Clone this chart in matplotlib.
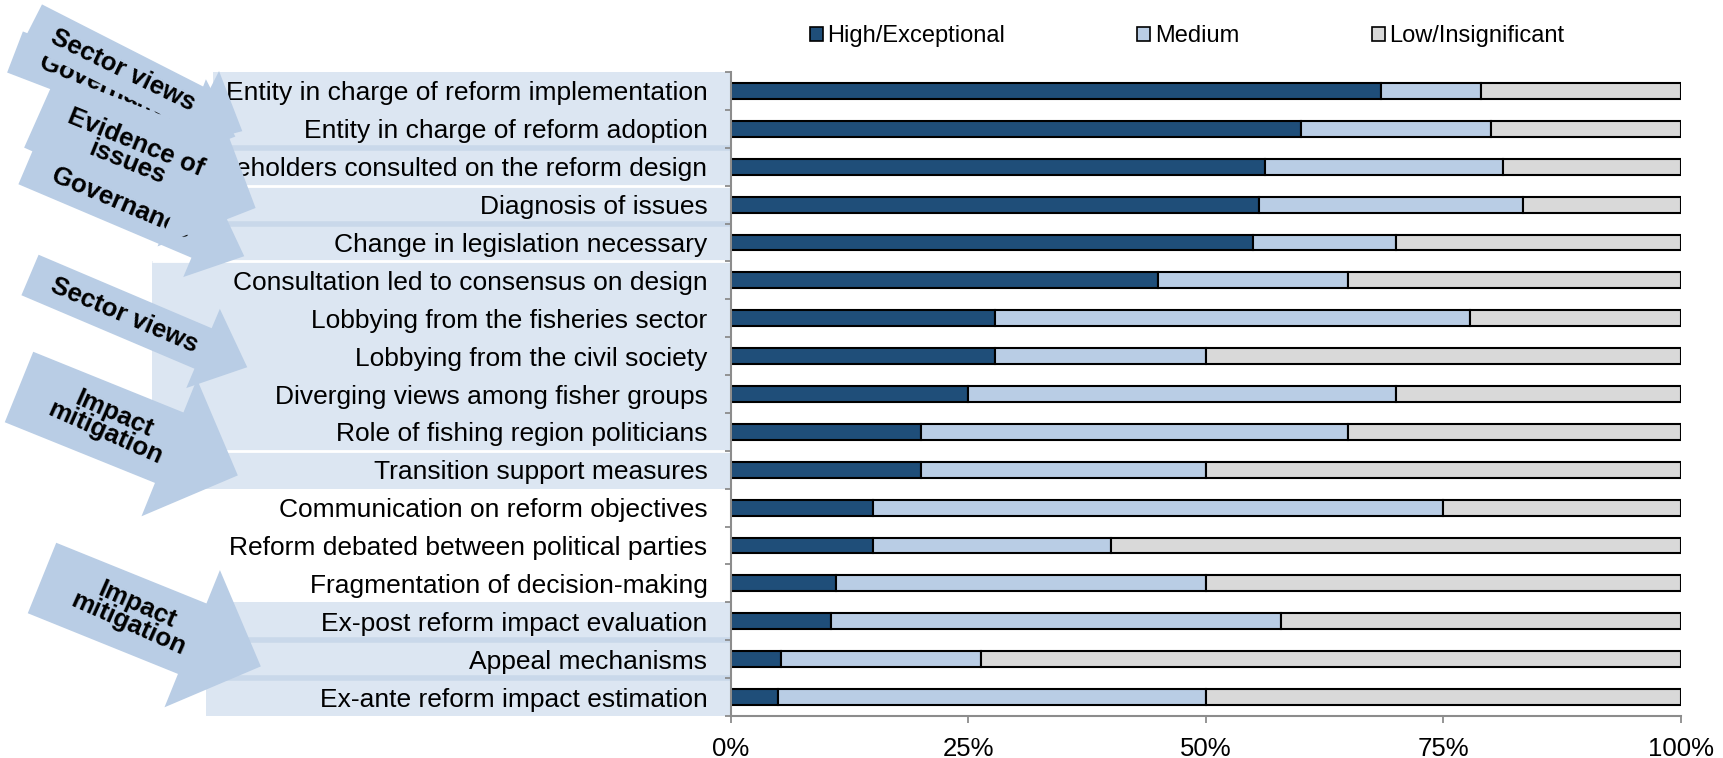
import numpy as np
import matplotlib
matplotlib.use("Agg")
import matplotlib.pyplot as plt
from matplotlib import font_manager
from matplotlib.patches import Polygon, Rectangle, Patch
from matplotlib.transforms import blended_transform_factory

categories = [
    "Entity in charge of reform implementation",
    "Entity in charge of reform adoption",
    "Stakeholders consulted on the reform design",
    "Diagnosis of issues",
    "Change in legislation necessary",
    "Consultation led to consensus on design",
    "Lobbying from the fisheries sector",
    "Lobbying from the civil society",
    "Diverging views among fisher groups",
    "Role of fishing region politicians",
    "Transition support measures",
    "Communication on reform objectives",
    "Reform debated between political parties",
    "Fragmentation of decision-making",
    "Ex-post reform impact evaluation",
    "Appeal mechanisms",
    "Ex-ante reform impact estimation",
]
high = [68.4, 60.0, 56.25, 55.6, 55.0, 45.0, 27.8, 27.8, 25.0, 20.0, 20.0,
        15.0, 15.0, 11.1, 10.5, 5.3, 5.0]
medium = [10.5, 20.0, 25.0, 27.8, 15.0, 20.0, 50.0, 22.2, 45.0, 45.0, 30.0,
          60.0, 25.0, 38.9, 47.4, 21.0, 45.0]
low = [21.1, 20.0, 18.75, 16.6, 30.0, 35.0, 22.2, 50.0, 30.0, 35.0, 50.0,
       25.0, 60.0, 50.0, 42.1, 73.7, 50.0]
series_names = ["High/Exceptional", "Medium", "Low/Insignificant"]
x_ticks = [0, 25, 50, 75, 100]
x_ticklabels = ["0%", "25%", "50%", "75%", "100%"]

C_HIGH = "#1F4E79"
C_MED = "#B9CDE5"
C_LOW = "#D9D9D9"
C_BAND = "#DCE6F2"
C_BAND_LINE = "#C9D8EA"
C_ARROW = "#B9CDE5"
GREY = "#8C8C8C"

names = {f.name for f in font_manager.fontManager.ttflist}
narrow = "Liberation Sans Narrow" if "Liberation Sans Narrow" in names else "Liberation Sans"
plt.rcParams["font.family"] = ["Liberation Sans", "DejaVu Sans"]

W, H = 1724, 758
fig = plt.figure(figsize=(W / 100, H / 100), dpi=100)

# background layer (label bands), main chart, foreground layer (arrows)
bg = fig.add_axes([0, 0, 1, 1], zorder=0)
bg.set_xlim(0, W)
bg.set_ylim(H, 0)
bg.axis("off")

ax = fig.add_axes([731 / W, 1 - 716 / H, 950 / W, 644 / H], zorder=1)
ax.patch.set_alpha(0)

fg = fig.add_axes([0, 0, 1, 1], zorder=2)
fg.set_xlim(0, W)
fg.set_ylim(H, 0)
fg.axis("off")
fg.patch.set_alpha(0)

y = np.arange(len(categories))
h = np.array(high)
m = np.array(medium)
l = np.array(low)
bh = 0.42
ax.barh(y, h, height=bh, color=C_HIGH, edgecolor="black", linewidth=1.5, label=series_names[0])
ax.barh(y, m, left=h, height=bh, color=C_MED, edgecolor="black", linewidth=1.5, label=series_names[1])
ax.barh(y, l, left=h + m, height=bh, color=C_LOW, edgecolor="black", linewidth=1.5, label=series_names[2])

ax.set_xlim(0, 100)
ax.set_ylim(len(categories) - 0.5, -0.5)
ax.set_yticks(y)
ax.set_yticklabels(categories, fontsize=19)
ax.set_yticks(np.arange(len(categories) + 1) - 0.5, minor=True)
ax.tick_params(axis="y", which="major", length=0, pad=17)
ax.tick_params(axis="y", which="minor", length=4, width=1.3, color=GREY, direction="out")
ax.set_xticks(x_ticks)
ax.set_xticklabels(x_ticklabels, fontsize=18.5, family=narrow)
ax.tick_params(axis="x", length=5, width=1.3, color=GREY, pad=10)
for s in ["top", "right"]:
    ax.spines[s].set_visible(False)
for s in ["left", "bottom"]:
    ax.spines[s].set_color(GREY)
    ax.spines[s].set_linewidth(1.5)

# light bands behind the category labels
tb = blended_transform_factory(bg.transData, ax.transData)
bands = [(213, 0, 4), (152, 5, 9), (203, 10, 10), (233, 14, 15), (206, 16, 16)]
for x0, r0, r1 in bands:
    bg.add_patch(Rectangle((x0, r0 - 0.5), 731 - x0, r1 - r0 + 1, transform=tb,
                           facecolor=C_BAND, edgecolor="none"))
for x0, r in [(213, 1.5), (213, 3.5), (233, 14.5), (206, 15.5)]:
    bg.plot([x0, 731], [r, r], transform=tb, color=C_BAND_LINE, lw=4, solid_capstyle="butt")
for x0, r in [(213, 2.5), (152, 4.5), (152, 9.5)]:
    bg.plot([x0, 731], [r, r], transform=tb, color="white", lw=2, solid_capstyle="butt")


def block_arrow(tail, ang, text, z, length=236, sw=44, hw=86, hl=48, tpos=102, tang=None):
    a = np.radians(ang)
    u = np.array([np.cos(a), np.sin(a)])
    n = np.array([-np.sin(a), np.cos(a)])
    t = np.array(tail, dtype=float)
    pts = [(0, -sw / 2), (length - hl, -sw / 2), (length - hl, -hw / 2), (length, 0),
           (length - hl, hw / 2), (length - hl, sw / 2), (0, sw / 2)]
    xy = [t + p * u + q * n for p, q in pts]
    fg.add_patch(Polygon(xy, closed=True, facecolor=C_ARROW, edgecolor="none", zorder=z))
    c = t + tpos * u
    fg.text(c[0], c[1], text, rotation=-(tang if tang is not None else ang),
            rotation_mode="anchor", ha="center", va="center", fontsize=18.5,
            fontweight="bold", linespacing=0.85, zorder=z + 0.5)


block_arrow((15, 52), 21, "Governance", 2)
block_arrow((32, 24), 27, "Sector views", 3, tang=26)
block_arrow((27, 164), 23, "Governance", 4)
block_arrow((40, 112), 24, "Evidence of\nissues", 5, sw=78, hw=150, hl=74, tpos=100, tang=22)
block_arrow((30, 275), 23, "Sector views", 6)
block_arrow((19, 387), 22, "Impact\nmitigation", 7, sw=76, hw=148, hl=74, tpos=98, tang=24)
block_arrow((42, 578), 22, "Impact\nmitigation", 8, sw=76, hw=148, hl=74, tpos=98, tang=24)

handles = [Patch(facecolor=c, edgecolor="black", linewidth=1.2) for c in (C_HIGH, C_MED, C_LOW)]
fig.legend(handles, series_names, loc="center", bbox_to_anchor=(1187 / W, 1 - 36 / H),
           ncol=3, frameon=False, prop={"family": narrow, "size": 17},
           handlelength=0.55, handleheight=0.55, handletextpad=0.2, columnspacing=5.6)

fig.savefig("out.png", dpi=100)
